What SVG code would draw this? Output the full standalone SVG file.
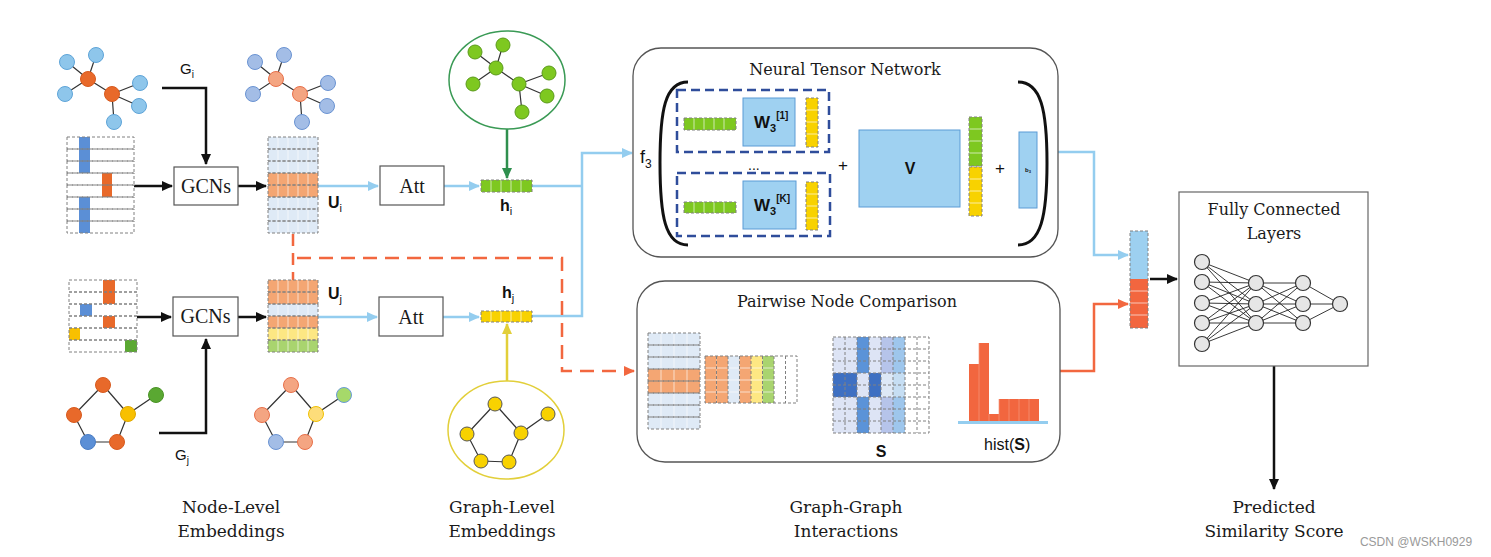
<svg xmlns="http://www.w3.org/2000/svg" width="1491" height="557" viewBox="0 0 1491 557">
<defs>
<style>
.serif{font-family:"DejaVu Serif","Liberation Serif",serif;fill:#1a1a1a}
.times{font-family:"Liberation Serif","Times New Roman",serif;fill:#1a1a1a}
.sans{font-family:"Liberation Sans",Arial,sans-serif;fill:#111}
.b{font-weight:bold}
.edge{stroke:#333;stroke-width:1.2;fill:none}
.dash{fill:none;stroke:#808080;stroke-width:1;stroke-dasharray:3 2}
.div{stroke:#fff;stroke-width:0.8;opacity:0.8}
.box{fill:#fff;stroke:#555;stroke-width:1.2}
.rbox{fill:#fff;stroke:#555;stroke-width:1.3}
.ntn{fill:none;stroke:#2f4d9b;stroke-width:2.5;stroke-dasharray:9 5}
.wbox{fill:#9fd1f1;stroke:#5b9bd5;stroke-width:1}
.blue-ln{fill:none;stroke:#94cdef;stroke-width:2.5}
.red-ln{fill:none;stroke:#f2673f;stroke-width:2.5}
.blk-ln{fill:none;stroke:#111;stroke-width:2.5}
.nb{fill:#8ec6eb;stroke:#5ea4d8;stroke-width:1}
.no{fill:#e8692a;stroke:#d85a1e;stroke-width:1}
.nb2{fill:#a3bde6;stroke:#6a93d2;stroke-width:1}
.no2{fill:#f4a582;stroke:#e8704a;stroke-width:1}
.ny2{fill:#fddd7a;stroke:#f0c000;stroke-width:1}
.ng2{fill:#a6d96a;stroke:#6a9bd8;stroke-width:1}
.ng{fill:#7ec820;stroke:#5a9a1a;stroke-width:1}
.ny{fill:#f8d200;stroke:#555;stroke-width:1}
.fc{fill:#e6e6e6;stroke:#333;stroke-width:1.2}
.nn{stroke:#222;stroke-width:0.9}
</style>
<marker id="aBlk" markerUnits="userSpaceOnUse" markerWidth="11" markerHeight="10" refX="10" refY="5" orient="auto"><path d="M0,0 L11,5 L0,10 z" fill="#111"/></marker>
<marker id="aBlue" markerUnits="userSpaceOnUse" markerWidth="11" markerHeight="10" refX="10" refY="5" orient="auto"><path d="M0,0 L11,5 L0,10 z" fill="#94cdef"/></marker>
<marker id="aRed" markerUnits="userSpaceOnUse" markerWidth="11" markerHeight="10" refX="10" refY="5" orient="auto"><path d="M0,0 L11,5 L0,10 z" fill="#f2673f"/></marker>
<marker id="aGreen" markerUnits="userSpaceOnUse" markerWidth="11" markerHeight="10" refX="10" refY="5" orient="auto"><path d="M0,0 L11,5 L0,10 z" fill="#2f8f4e"/></marker>
<marker id="aYel" markerUnits="userSpaceOnUse" markerWidth="11" markerHeight="10" refX="10" refY="5" orient="auto"><path d="M0,0 L11,5 L0,10 z" fill="#e2cf3a"/></marker>
</defs>
<rect width="1491" height="557" fill="#fff"/>

<!-- connectors -->
<g id="connectors">
<path class="blk-ln" d="M162,88 H206 V164" marker-end="url(#aBlk)"/>
<path class="blk-ln" d="M159,433 H206 V339" marker-end="url(#aBlk)"/>
<path class="blk-ln" d="M134,186 H172" marker-end="url(#aBlk)"/>
<path class="blk-ln" d="M238,186 H266" marker-end="url(#aBlk)"/>
<path class="blk-ln" d="M137,317 H171" marker-end="url(#aBlk)"/>
<path class="blk-ln" d="M238,317 H266" marker-end="url(#aBlk)"/>
<path class="blue-ln" d="M318,186 H378" marker-end="url(#aBlue)"/>
<path class="blue-ln" d="M318,317 H377" marker-end="url(#aBlue)"/>
<path class="blue-ln" d="M444,186 H479" marker-end="url(#aBlue)"/>
<path class="blue-ln" d="M443,317 H479" marker-end="url(#aBlue)"/>
<path class="blue-ln" d="M532,186 H582"/>
<path class="blue-ln" d="M532,316 H582 V153 H632" marker-end="url(#aBlue)"/>
<path d="M507,129 V178" fill="none" stroke="#2f8f4e" stroke-width="2.5" marker-end="url(#aGreen)"/>
<path d="M507,382 V324" fill="none" stroke="#e2cf3a" stroke-width="2.5" marker-end="url(#aYel)"/>
<path class="red-ln" d="M293,234 V280" stroke-dasharray="12 7"/>
<path class="red-ln" d="M297,258 H562 V371 H634" stroke-dasharray="14 8" marker-end="url(#aRed)"/>
<path class="blue-ln" d="M1058,152 H1094 V255 H1128" marker-end="url(#aBlue)"/>
<path class="red-ln" d="M1060,371 H1094 V304 H1128" marker-end="url(#aRed)"/>
<path class="blk-ln" d="M1150,279 H1177" marker-end="url(#aBlk)"/>
<path class="blk-ln" d="M1274,366 V489" marker-end="url(#aBlk)"/>
<path class="blk-ln" d="M808,385 H822" stroke-width="2" marker-end="url(#aBlk)"/>
<path class="blk-ln" d="M938,385 H952" stroke-width="2" marker-end="url(#aBlk)"/>
</g>

<!-- graph Gi -->
<g id="graph-gi">
<path class="edge" d="M88,79 L67,62 M88,79 L96,55 M88,79 L65,94 M88,79 L112,94 M112,94 L140,83 M112,94 L139,106 M112,94 L114,122"/>
<circle class="nb" cx="67" cy="62" r="7.5"/><circle class="nb" cx="96" cy="55" r="7.5"/><circle class="nb" cx="65" cy="94" r="7.5"/>
<circle class="nb" cx="140" cy="83" r="7.5"/><circle class="nb" cx="139" cy="106" r="7.5"/><circle class="nb" cx="114" cy="122" r="7.5"/>
<circle class="no" cx="88" cy="79" r="7.5"/><circle class="no" cx="112" cy="94" r="7.5"/>
<text class="sans" x="180" y="74" font-size="15">G<tspan font-size="10" dy="4">i</tspan></text>
</g>

<g id="graph-gi-out">
<path class="edge" d="M276,79 L255,62 M276,79 L284,55 M276,79 L253,94 M276,79 L300,94 M300,94 L328,83 M300,94 L327,106 M300,94 L302,122"/>
<circle class="nb2" cx="255" cy="62" r="7.5"/><circle class="nb2" cx="284" cy="55" r="7.5"/><circle class="nb2" cx="253" cy="94" r="7.5"/>
<circle class="nb2" cx="328" cy="83" r="7.5"/><circle class="nb2" cx="327" cy="106" r="7.5"/><circle class="nb2" cx="302" cy="122" r="7.5"/>
<circle class="no2" cx="276" cy="79" r="7.5"/><circle class="no2" cx="300" cy="94" r="7.5"/>
</g>

<!-- graph Gj -->
<g id="graph-gj">
<path class="edge" d="M103,385 L74,415 M103,385 L128,414 M74,415 L88,442 L117,442 L128,414 L156,395"/>
<circle class="no" cx="103" cy="385" r="7.5"/><circle class="no" cx="74" cy="415" r="7.5"/>
<circle cx="128" cy="414" r="7.5" fill="#f8c000" stroke="#e0a800"/>
<circle cx="88" cy="442" r="7.5" fill="#5b8fd6" stroke="#4a7dc4"/>
<circle class="no" cx="117" cy="442" r="7.5"/>
<circle cx="156" cy="395" r="7.5" fill="#5aa832" stroke="#4a9426"/>
<text class="sans" x="175" y="460" font-size="15">G<tspan font-size="10" dy="4">j</tspan></text>
</g>

<g id="graph-gj-out">
<path class="edge" d="M291,385 L262,415 M291,385 L316,414 M262,415 L276,442 L305,442 L316,414 L344,395"/>
<circle class="no2" cx="291" cy="385" r="7.5"/><circle class="no2" cx="262" cy="415" r="7.5"/>
<circle class="ny2" cx="316" cy="414" r="7.5"/>
<circle class="nb2" cx="276" cy="442" r="7.5"/>
<circle class="no2" cx="305" cy="442" r="7.5"/>
<circle class="ng2" cx="344" cy="395" r="7.5"/>
</g>

<!-- input feature matrix i -->
<g id="features-i">
<rect x="79" y="137" width="11" height="36" fill="#5b8fd6"/>
<rect x="79" y="197" width="11" height="36" fill="#5b8fd6"/>
<rect x="102" y="173" width="10" height="24" fill="#e8692a"/>
<rect class="dash" x="67" y="137" width="67" height="12"/><rect class="dash" x="67" y="149" width="67" height="12"/>
<rect class="dash" x="67" y="161" width="67" height="12"/><rect class="dash" x="67" y="173" width="67" height="12"/>
<rect class="dash" x="67" y="185" width="67" height="12"/><rect class="dash" x="67" y="197" width="67" height="12"/>
<rect class="dash" x="67" y="209" width="67" height="12"/><rect class="dash" x="67" y="221" width="67" height="12"/>
</g>

<g id="features-j">
<rect x="103" y="280" width="12" height="24" fill="#e8692a"/>
<rect x="103" y="316" width="12" height="12" fill="#e8692a"/>
<rect x="80" y="304" width="12" height="12" fill="#5b8fd6"/>
<rect x="69" y="328" width="11" height="12" fill="#f8c000"/>
<rect x="125" y="340" width="12" height="12" fill="#5aa832"/>
<rect class="dash" x="69" y="280" width="68" height="12"/><rect class="dash" x="69" y="292" width="68" height="12"/>
<rect class="dash" x="69" y="304" width="68" height="12"/><rect class="dash" x="69" y="316" width="68" height="12"/>
<rect class="dash" x="69" y="328" width="68" height="12"/><rect class="dash" x="69" y="340" width="68" height="12"/>
</g>

<!-- GCNs -->
<g id="gcn-i"><rect class="box" x="174" y="167" width="64" height="38"/><text class="times" x="206" y="193" font-size="20" text-anchor="middle">GCNs</text></g>
<g id="gcn-j"><rect class="box" x="173" y="297" width="65" height="39"/><text class="times" x="205.5" y="323" font-size="20" text-anchor="middle">GCNs</text></g>

<!-- Ui -->
<g id="ui">
<rect x="268" y="137" width="50" height="96" fill="#dfeaf6"/>
<rect x="268" y="173" width="50" height="24" fill="#f4a673"/>
<path class="div" d="M278,137V233M288,137V233M298,137V233M308,137V233"/>
<rect class="dash" x="268" y="137" width="50" height="12"/><rect class="dash" x="268" y="149" width="50" height="12"/>
<rect class="dash" x="268" y="161" width="50" height="12"/><rect class="dash" x="268" y="173" width="50" height="12"/>
<rect class="dash" x="268" y="185" width="50" height="12"/><rect class="dash" x="268" y="197" width="50" height="12"/>
<rect class="dash" x="268" y="209" width="50" height="12"/><rect class="dash" x="268" y="221" width="50" height="12"/>
<text class="sans b" x="328" y="208" font-size="16">U<tspan font-size="11" font-weight="normal" dy="4">i</tspan></text>
</g>

<g id="uj">
<rect x="268" y="280" width="50" height="24" fill="#f4a673"/>
<rect x="268" y="304" width="50" height="12" fill="#dfeaf6"/>
<rect x="268" y="316" width="50" height="12" fill="#f4a673"/>
<rect x="268" y="328" width="50" height="12" fill="#fde783"/>
<rect x="268" y="340" width="50" height="12" fill="#a9d46f"/>
<path class="div" d="M278,280V352M288,280V352M298,280V352M308,280V352"/>
<rect class="dash" x="268" y="280" width="50" height="12"/><rect class="dash" x="268" y="292" width="50" height="12"/>
<rect class="dash" x="268" y="304" width="50" height="12"/><rect class="dash" x="268" y="316" width="50" height="12"/>
<rect class="dash" x="268" y="328" width="50" height="12"/><rect class="dash" x="268" y="340" width="50" height="12"/>
<text class="sans b" x="328" y="299" font-size="16">U<tspan font-size="11" font-weight="normal" dy="4">j</tspan></text>
</g>

<!-- Att -->
<g id="att-i"><rect class="box" x="380" y="166" width="64" height="39"/><text class="times" x="412" y="193" font-size="20" text-anchor="middle">Att</text></g>
<g id="att-j"><rect class="box" x="379" y="297" width="64" height="39"/><text class="times" x="411" y="324" font-size="20" text-anchor="middle">Att</text></g>

<!-- graph-level -->
<g id="pool-i">
<ellipse cx="507" cy="80" rx="58" ry="49" fill="#fff" stroke="#3a9a55" stroke-width="1.5"/>
<path class="edge" d="M496,68 L475,52 M496,68 L503,45 M496,68 L473,84 M496,68 L519,84 M519,84 L549,73 M519,84 L547,96 M519,84 L522,112"/>
<circle class="ng" cx="475" cy="52" r="7"/><circle class="ng" cx="503" cy="45" r="7"/><circle class="ng" cx="496" cy="68" r="7"/>
<circle class="ng" cx="473" cy="84" r="7"/><circle class="ng" cx="519" cy="84" r="7"/><circle class="ng" cx="549" cy="73" r="7"/>
<circle class="ng" cx="547" cy="96" r="7"/><circle class="ng" cx="522" cy="112" r="7"/>
</g>
<g id="hi">
<rect x="481" y="180" width="51" height="12" fill="#7ec820"/>
<path class="div" d="M491,180V192M501,180V192M511,180V192M521,180V192"/>
<rect class="dash" x="481" y="180" width="51" height="12"/>
<text class="sans b" x="500" y="211" font-size="16">h<tspan font-size="11" font-weight="normal" dy="4">i</tspan></text>
</g>
<g id="pool-j">
<ellipse cx="506" cy="430" rx="58" ry="49" fill="#fff" stroke="#e2cf3a" stroke-width="1.5"/>
<path class="edge" d="M495,404 L467,434 M495,404 L521,433 M467,434 L481,461 L509,462 L521,433 L548,414"/>
<circle class="ny" cx="495" cy="404" r="7"/><circle class="ny" cx="467" cy="434" r="7"/><circle class="ny" cx="521" cy="433" r="7"/>
<circle class="ny" cx="481" cy="461" r="7"/><circle class="ny" cx="509" cy="462" r="7"/><circle class="ny" cx="548" cy="414" r="7"/>
</g>
<g id="hj">
<rect x="481" y="311" width="51" height="11" fill="#f8d200"/>
<path class="div" d="M491,311V322M501,311V322M511,311V322M521,311V322"/>
<rect class="dash" x="481" y="311" width="51" height="11"/>
<text class="sans b" x="502" y="298" font-size="16">h<tspan font-size="11" font-weight="normal" dy="4">j</tspan></text>
</g>

<!-- NTN -->
<g id="ntn">
<rect class="rbox" x="633" y="48" width="425" height="209" rx="28"/>
<text class="serif" x="845" y="75" font-size="16" text-anchor="middle">Neural Tensor Network</text>
<text class="sans" x="640" y="163" font-size="18">f<tspan font-size="12" dy="5">3</tspan></text>
<path d="M688,82 C665,82 660,110 660,163 C660,216 665,245 688,245" fill="none" stroke="#111" stroke-width="3"/>
<path d="M1018,82 C1041,82 1047,110 1047,163 C1047,216 1041,245 1018,245" fill="none" stroke="#111" stroke-width="3"/>
<rect class="ntn" x="677" y="90" width="152" height="62"/>
<rect class="ntn" x="677" y="173" width="153" height="63"/>
<rect x="684" y="118" width="52" height="12" fill="#7ec820"/>
<path class="div" d="M694,118V130M704,118V130M714,118V130M724,118V130"/>
<rect class="dash" x="684" y="118" width="52" height="12"/>
<rect class="wbox" x="743" y="98" width="52" height="48"/>
<text class="sans b" x="754" y="128" font-size="17">W<tspan font-size="11" dy="4">3</tspan><tspan font-size="10" dy="-13">[1]</tspan></text>
<rect x="806" y="98" width="12" height="49" fill="#f8d200"/>
<path class="div" d="M806,110H818M806,122H818M806,134H818"/>
<rect class="dash" x="806" y="98" width="12" height="49"/>
<text class="sans" x="748" y="170" font-size="14">...</text>
<rect x="684" y="202" width="52" height="11" fill="#7ec820"/>
<path class="div" d="M694,202V213M704,202V213M714,202V213M724,202V213"/>
<rect class="dash" x="684" y="202" width="52" height="11"/>
<rect class="wbox" x="743" y="181" width="53" height="48"/>
<text class="sans b" x="754" y="211" font-size="17">W<tspan font-size="11" dy="4">3</tspan><tspan font-size="10" dy="-13">[K]</tspan></text>
<rect x="806" y="182" width="12" height="48" fill="#f8d200"/>
<path class="div" d="M806,194H818M806,206H818M806,218H818"/>
<rect class="dash" x="806" y="182" width="12" height="48"/>
<text class="sans" x="843" y="171" font-size="17" text-anchor="middle">+</text>
<rect class="wbox" x="859" y="130" width="101" height="77"/>
<text class="sans b" x="910" y="174" font-size="16" text-anchor="middle">V</text>
<rect x="969" y="117" width="13" height="49" fill="#7ec820"/>
<path class="div" d="M969,129H982M969,141H982M969,153H982"/>
<rect class="dash" x="969" y="117" width="13" height="49"/>
<rect x="969" y="167" width="13" height="49" fill="#f8d200"/>
<path class="div" d="M969,179H982M969,191H982M969,203H982"/>
<rect class="dash" x="969" y="167" width="13" height="49"/>
<text class="sans" x="1000" y="174" font-size="17" text-anchor="middle">+</text>
<rect class="wbox" x="1019" y="132" width="18" height="76"/>
<text class="sans b" x="1028" y="172" font-size="6" text-anchor="middle">b<tspan font-size="4" dy="1">3</tspan></text>
</g>

<!-- Pairwise -->
<g id="pairwise">
<rect class="rbox" x="637" y="281" width="423" height="181" rx="28"/>
<text class="serif" x="847" y="307" font-size="16" text-anchor="middle">Pairwise Node Comparison</text>
<rect x="648" y="333" width="52" height="96" fill="#dfeaf6"/>
<rect x="648" y="369" width="52" height="24" fill="#f4a673"/>
<path class="div" d="M661,333V429M674,333V429M687,333V429"/>
<rect class="dash" x="648" y="333" width="52" height="12"/><rect class="dash" x="648" y="345" width="52" height="12"/>
<rect class="dash" x="648" y="357" width="52" height="12"/><rect class="dash" x="648" y="369" width="52" height="12"/>
<rect class="dash" x="648" y="381" width="52" height="12"/><rect class="dash" x="648" y="393" width="52" height="12"/>
<rect class="dash" x="648" y="405" width="52" height="12"/><rect class="dash" x="648" y="417" width="52" height="12"/>
<rect x="705" y="356" width="11.5" height="47" fill="#f4a673"/>
<rect x="716.5" y="356" width="11.5" height="47" fill="#f4a673"/>
<rect x="728" y="356" width="11.5" height="47" fill="#dfeaf6"/>
<rect x="739.5" y="356" width="11.5" height="47" fill="#f4a673"/>
<rect x="751" y="356" width="11.5" height="47" fill="#fde783"/>
<rect x="762.5" y="356" width="11.5" height="47" fill="#a9d46f"/>
<path class="div" d="M705,368H774M705,380H774M705,392H774"/>
<path class="dash" d="M705,356H797V403H705Z M716.5,356V403 M728,356V403 M739.5,356V403 M751,356V403 M762.5,356V403 M774,356V403 M785.5,356V403"/>
<!-- S matrix -->
<rect x="833" y="337" width="24" height="96" fill="#dde4f5"/>
<rect x="857" y="337" width="12" height="96" fill="#5b93d8"/>
<rect x="869" y="337" width="12" height="96" fill="#dde4f5"/>
<rect x="881" y="337" width="12" height="96" fill="#b6c4ea"/>
<rect x="893" y="337" width="12" height="96" fill="#9ec6ec"/>
<rect x="833" y="373" width="24" height="24" fill="#3e70c2"/>
<rect x="857" y="373" width="12" height="24" fill="#dde4f5"/>
<rect x="869" y="373" width="12" height="24" fill="#3e70c2"/>
<rect x="881" y="373" width="12" height="24" fill="#dde8f6"/>
<rect x="893" y="373" width="12" height="24" fill="#c6def3"/>
<path class="dash" d="M833,337H929V433H833Z M833,349H929 M833,361H929 M833,373H929 M833,385H929 M833,397H929 M833,409H929 M833,421H929 M845,337V433 M857,337V433 M869,337V433 M881,337V433 M893,337V433 M905,337V433 M917,337V433"/>
<text class="sans b" x="881" y="457" font-size="16" text-anchor="middle">S</text>
<!-- histogram -->
<rect x="958" y="421" width="90" height="3" fill="#94cdef"/>
<rect x="969" y="364" width="10" height="57" fill="#f2663f"/>
<rect x="979" y="343" width="10" height="78" fill="#f2663f"/>
<rect x="989" y="414" width="10" height="7" fill="#f2663f"/>
<rect x="999" y="399" width="40" height="22" fill="#f2663f"/>
<path d="M979,343V421M989,414V421M999,399V421M1009,399V421M1019,399V421M1029,399V421" stroke="#f79a7c" stroke-width="0.7"/>
<text class="sans" x="984" y="450" font-size="16">hist(<tspan font-weight="bold">S</tspan>)</text>
</g>

<!-- concatenated vector -->
<g id="concat">
<rect x="1130" y="231" width="18" height="48" fill="#9dd0f0"/>
<rect x="1130" y="279" width="18" height="49" fill="#f2663f"/>
<path class="div" d="M1130,291H1148M1130,303H1148M1130,315H1148"/>
<rect class="dash" x="1130" y="231" width="18" height="97"/>
</g>

<!-- FC -->
<g id="fc">
<rect x="1179" y="192" width="189" height="174" fill="#fff" stroke="#666" stroke-width="1.2"/>
<text class="serif" x="1274" y="215" font-size="16" text-anchor="middle">Fully Connected</text>
<text class="serif" x="1274" y="239" font-size="16" text-anchor="middle">Layers</text>
<g class="nn">
<path d="M1202,262L1256,283M1202,262L1256,304M1202,262L1256,323M1202,282L1256,283M1202,282L1256,304M1202,282L1256,323M1202,303L1256,283M1202,303L1256,304M1202,303L1256,323M1202,323L1256,283M1202,323L1256,304M1202,323L1256,323M1202,344L1256,283M1202,344L1256,304M1202,344L1256,323"/>
<path d="M1256,283L1303,283M1256,283L1303,304M1256,283L1303,323M1256,304L1303,283M1256,304L1303,304M1256,304L1303,323M1256,323L1303,283M1256,323L1303,304M1256,323L1303,323"/>
<path d="M1303,283L1340,304M1303,304L1340,304M1303,323L1340,304"/>
</g>
<circle class="fc" cx="1202" cy="262" r="7.5"/><circle class="fc" cx="1202" cy="282" r="7.5"/><circle class="fc" cx="1202" cy="303" r="7.5"/>
<circle class="fc" cx="1202" cy="323" r="7.5"/><circle class="fc" cx="1202" cy="344" r="7.5"/>
<circle class="fc" cx="1256" cy="283" r="7.5"/><circle class="fc" cx="1256" cy="304" r="7.5"/><circle class="fc" cx="1256" cy="323" r="7.5"/>
<circle class="fc" cx="1303" cy="283" r="7.5"/><circle class="fc" cx="1303" cy="304" r="7.5"/><circle class="fc" cx="1303" cy="323" r="7.5"/>
<circle class="fc" cx="1340" cy="304" r="7.5"/>
</g>

<!-- bottom labels -->
<g id="labels">
<text class="serif" x="231" y="513" font-size="17" text-anchor="middle">Node-Level</text>
<text class="serif" x="231" y="537" font-size="17" text-anchor="middle">Embeddings</text>
<text class="serif" x="502" y="513" font-size="17" text-anchor="middle">Graph-Level</text>
<text class="serif" x="502" y="537" font-size="17" text-anchor="middle">Embeddings</text>
<text class="serif" x="846" y="513" font-size="17" text-anchor="middle">Graph-Graph</text>
<text class="serif" x="846" y="537" font-size="17" text-anchor="middle">Interactions</text>
<text class="serif" x="1274" y="513" font-size="17" text-anchor="middle">Predicted</text>
<text class="serif" x="1274" y="537" font-size="17" text-anchor="middle">Similarity Score</text>
<text x="1416" y="546" font-size="12" text-anchor="middle" fill="#9a9a9a" font-family="Liberation Sans, Arial, sans-serif">CSDN @WSKH0929</text>
</g>
</svg>
